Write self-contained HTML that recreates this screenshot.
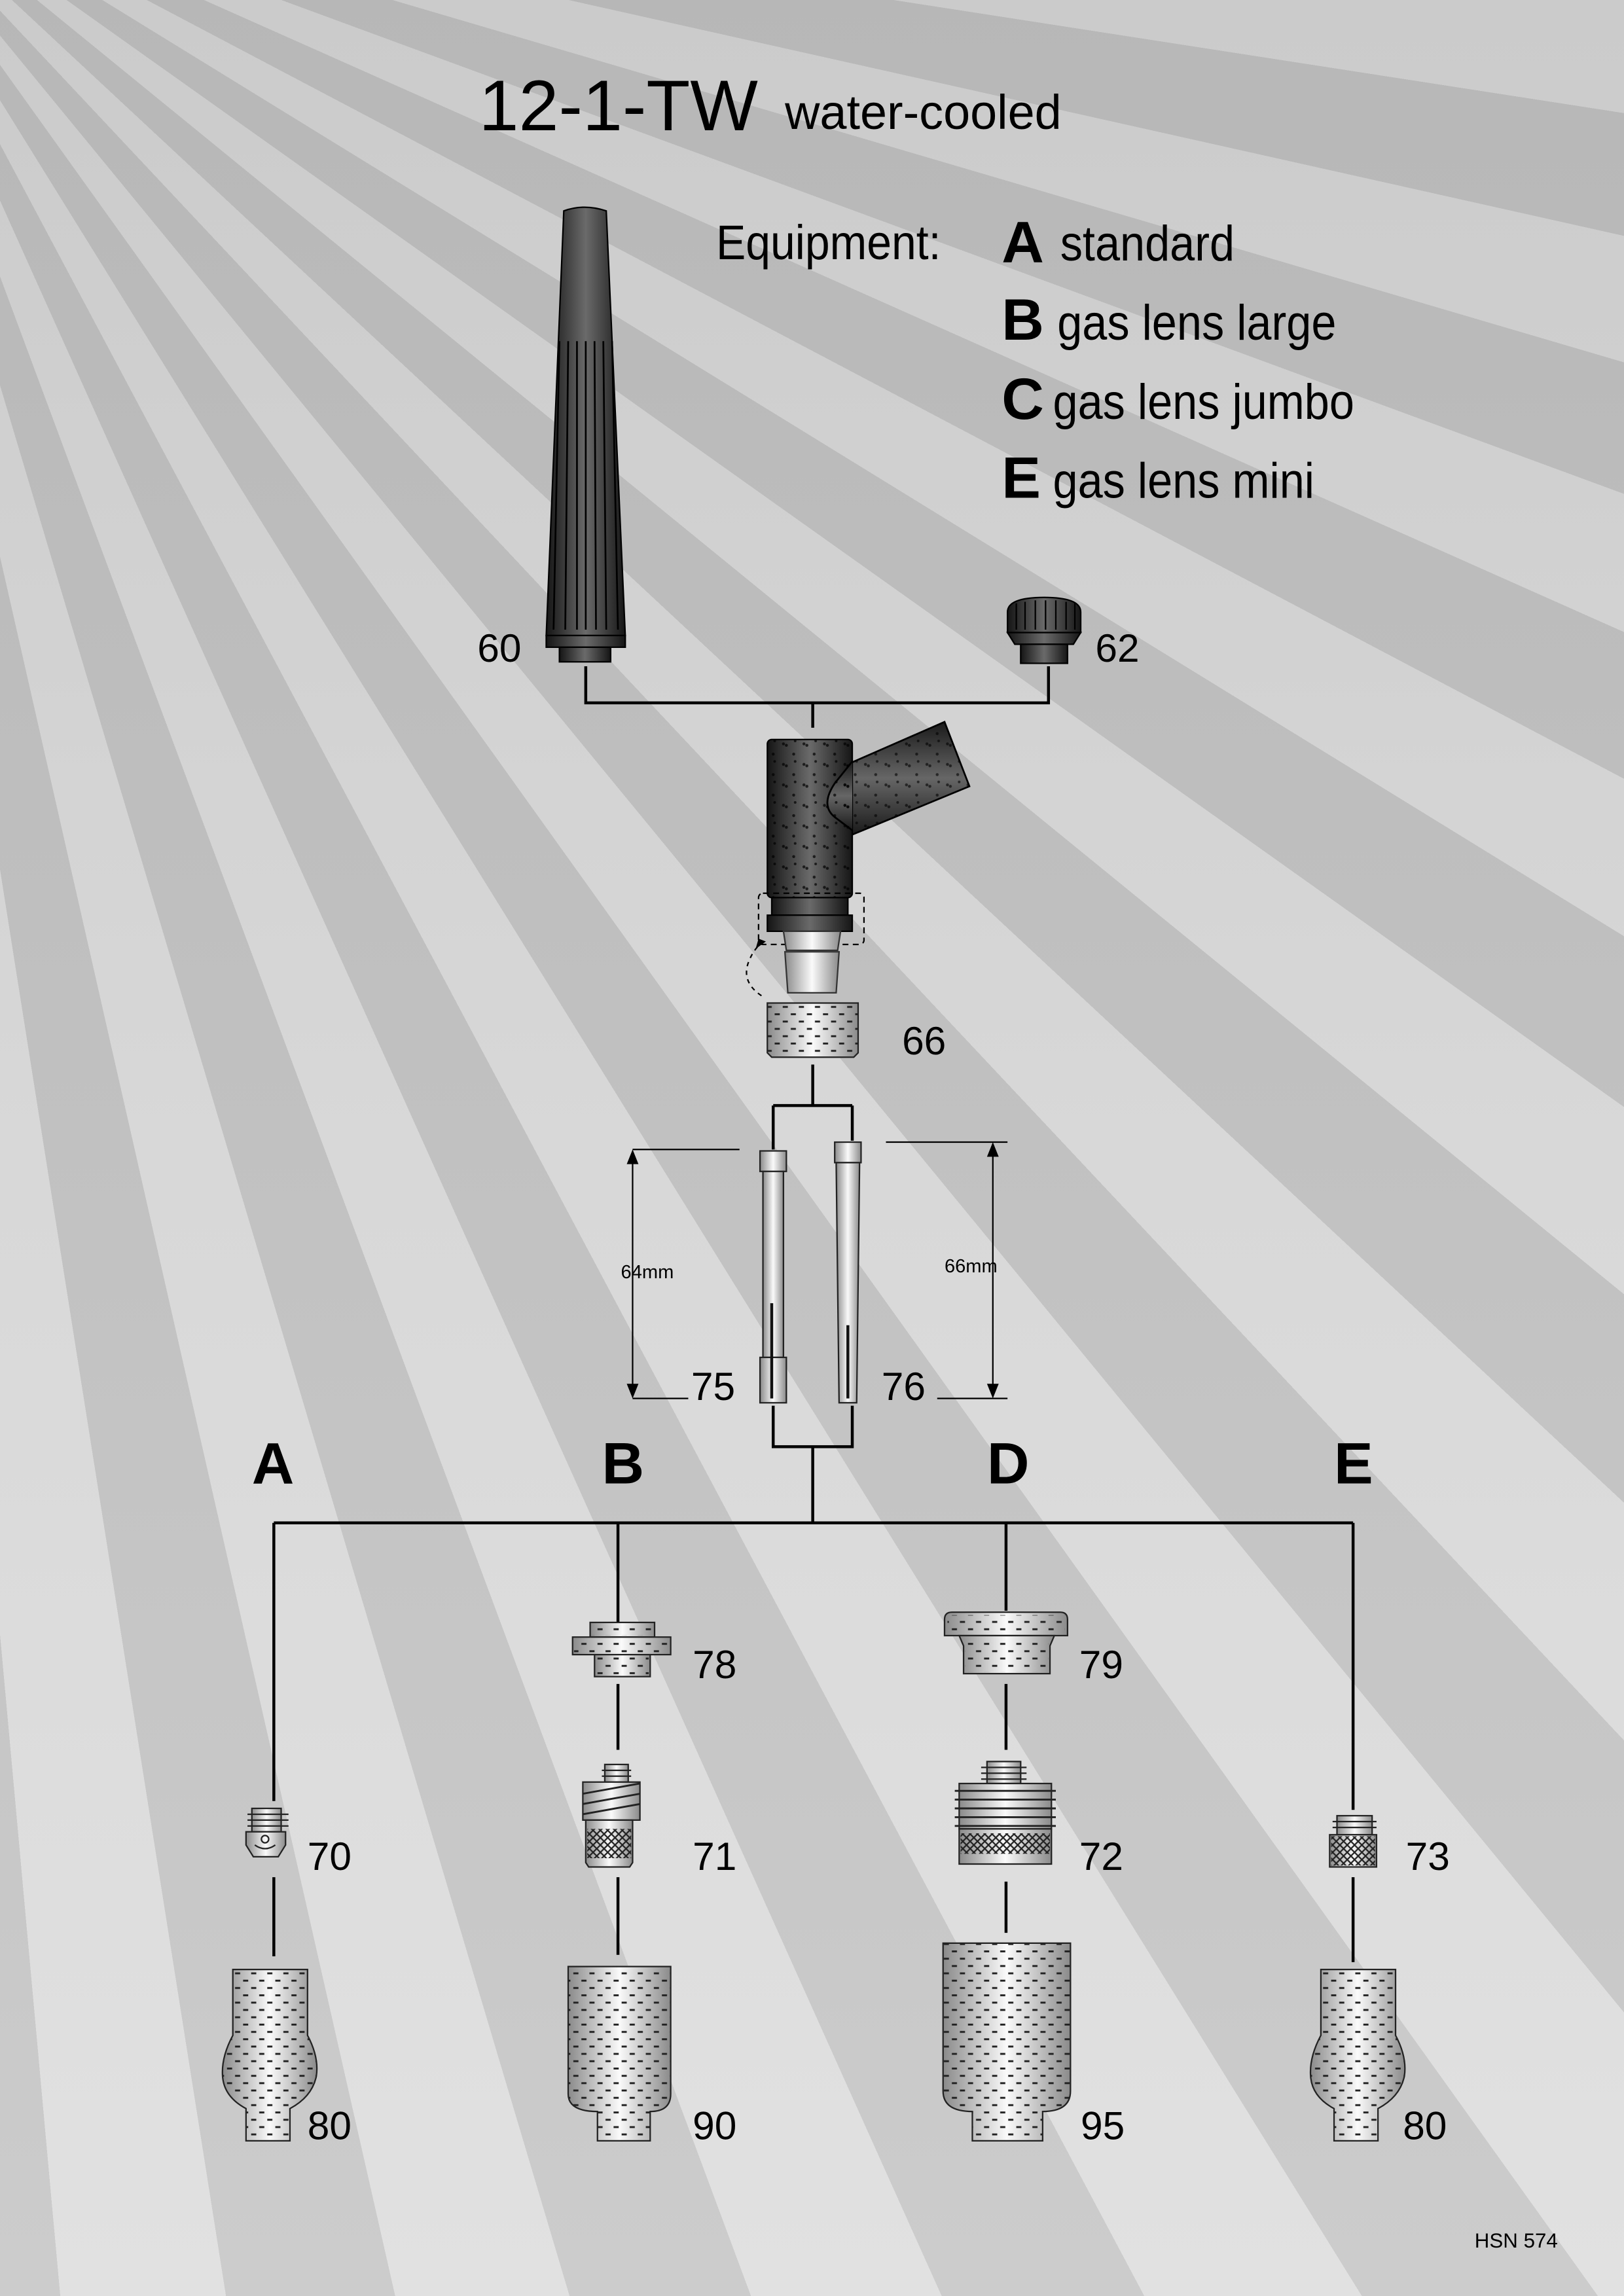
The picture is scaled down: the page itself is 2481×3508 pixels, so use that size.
<!DOCTYPE html>
<html><head><meta charset="utf-8">
<style>
html,body{margin:0;padding:0;}
body{width:2481px;height:3508px;overflow:hidden;position:relative;
background:repeating-conic-gradient(from 0deg at -250px -250px,#c5c5c5 0deg 3.8deg,#dddddd 3.8deg 7.6deg);}
#ov{position:absolute;left:0;top:0;width:2481px;height:3508px;
background:linear-gradient(to bottom,rgba(120,120,120,0.18),rgba(120,120,120,0.05) 50%,rgba(255,255,255,0.12));}
svg{position:absolute;left:0;top:0;}
text{font-family:"Liberation Sans",Arial,sans-serif;fill:#000;}
.b{font-weight:bold;}
.ln{stroke:#000;stroke-width:2;fill:none;}
</style></head><body><div id="ov"></div>
<svg width="2481" height="3508" viewBox="0 0 1109 1568" preserveAspectRatio="none">
<defs>
<linearGradient id="dk" x1="0" x2="1" y1="0" y2="0"><stop offset="0" stop-color="#151515"/><stop offset="0.5" stop-color="#6a6a6a"/><stop offset="1" stop-color="#151515"/></linearGradient>
<linearGradient id="mt" x1="0" x2="1" y1="0" y2="0"><stop offset="0" stop-color="#8a8a8a"/><stop offset="0.5" stop-color="#fafafa"/><stop offset="1" stop-color="#8a8a8a"/></linearGradient>
<linearGradient id="dt" x1="0" x2="0" y1="0" y2="1"><stop offset="0" stop-color="#1a1a1a"/><stop offset="0.5" stop-color="#666"/><stop offset="1" stop-color="#1a1a1a"/></linearGradient>
<pattern id="pf" width="11" height="10" patternUnits="userSpaceOnUse"><rect x="1" y="2" width="3.5" height="1.3" fill="#222"/><rect x="6.5" y="7" width="3.5" height="1.3" fill="#222"/></pattern>
<pattern id="kn" width="5" height="5" patternUnits="userSpaceOnUse"><path d="M0 0L5 5M5 0L0 5" stroke="#222" stroke-width="1"/></pattern>
<pattern id="sp" width="14" height="14" patternUnits="userSpaceOnUse"><circle cx="3" cy="4" r="1" fill="#000"/><circle cx="5" cy="5" r="1" fill="#000"/><circle cx="10" cy="11" r="1" fill="#000"/><circle cx="11" cy="2" r="0.9" fill="#000"/></pattern>
</defs>

<text x="327" y="89" font-size="49">12-1-TW</text>
<text x="536" y="88" font-size="33">water-cooled</text>
<text x="489" y="177" font-size="33" transform="translate(489,0) scale(0.92,1) translate(-489,0)">Equipment:</text>
<text x="684" y="179" font-size="40" class="b">A</text><text x="724" y="178" font-size="34" transform="translate(724,0) scale(0.9,1) translate(-724,0)">standard</text>
<text x="684" y="232" font-size="40" class="b">B</text><text x="722" y="232" font-size="34" transform="translate(722,0) scale(0.9,1) translate(-722,0)">gas lens large</text>
<text x="684" y="286" font-size="40" class="b">C</text><text x="719" y="286" font-size="34" transform="translate(719,0) scale(0.9,1) translate(-719,0)">gas lens jumbo</text>
<text x="684" y="340" font-size="40" class="b">E</text><text x="719" y="340" font-size="34" transform="translate(719,0) scale(0.9,1) translate(-719,0)">gas lens mini</text>

<!-- 60 -->
<path d="M385,144 Q399,139 414,144 L427,434 L373,434 Z" fill="url(#dk)" stroke="#000" stroke-width="1"/>
<path d="M382,233 L378,430 M388,233 L386,430 M394,233 L394,430 M400,233 L400,430 M406,233 L407,430 M412,233 L414,430 M418,233 L422,430" stroke="#000" stroke-width="1.2"/>
<rect x="373" y="434" width="54" height="8" fill="url(#dk)" stroke="#000"/>
<rect x="382" y="442" width="35" height="10" fill="url(#dk)" stroke="#000"/>
<text x="326" y="452" font-size="27">60</text>
<!-- 62 -->
<path d="M688,418 Q688,408 713,408 Q738,408 738,418 L738,432 L688,432 Z" fill="url(#dk)" stroke="#000"/>
<path d="M694,412V430M700,411V430M707,410V430M714,410V430M721,410V430M728,411V430M734,412V430" stroke="#000"/>
<path d="M688,432 L738,432 L733,440 L693,440 Z" fill="url(#dk)" stroke="#000"/>
<rect x="697" y="440" width="32" height="13" fill="url(#dk)" stroke="#000"/>
<text x="748" y="452" font-size="27">62</text>
<path class="ln" d="M400,455V480H716V455M555,480V497"/>

<!-- torch body -->
<path d="M565,528 L645,493 L662,537 L582,570 Q564,555 565,528 Z" fill="url(#dt)" stroke="#000" stroke-width="1.2"/>
<rect x="524" y="505" width="58" height="108" rx="3" fill="url(#dk)" stroke="#000"/>
<path d="M582,520 L570,535 Q560,550 570,558 L582,567" fill="url(#dt)" stroke="#000" stroke-width="1.2"/>
<rect x="524" y="505" width="58" height="108" fill="url(#sp)" opacity="0.7"/>
<path d="M565,528 L645,493 L662,537 L582,570 Z" fill="url(#sp)" opacity="0.6"/>
<rect x="527" y="613" width="52" height="12" fill="url(#dk)" stroke="#000"/>
<rect x="524" y="625" width="58" height="11" fill="url(#dk)" stroke="#000"/>
<rect x="518" y="610" width="72" height="35" rx="3" fill="none" stroke="#000" stroke-dasharray="4,3"/>
<path d="M535,636 L574,636 L572,649 L537,649 Z" fill="url(#mt)" stroke="#333"/>
<path d="M536,650 L573,650 L571,678 L538,678 Z" fill="url(#mt)" stroke="#333"/>
<path d="M520,680 Q505,670 512,655 Q515,648 521,643" fill="none" stroke="#000" stroke-dasharray="3,3"/>
<path d="M518,641 L523,643 L516,648 Z" fill="#000"/>
<!-- 66 -->
<path d="M524,685 H586 V719 L583,722 H527 L524,719 Z" fill="url(#mt)" stroke="#222"/>
<path d="M524,685 H586 V719 L583,722 H527 L524,719 Z" fill="url(#pf)"/>
<text x="616" y="720" font-size="27">66</text>
<path class="ln" d="M555,727V755M528,755H582M528,755V785M582,755V779"/>

<!-- collets -->
<rect x="519" y="786" width="18" height="14" fill="url(#mt)" stroke="#222"/>
<rect x="521" y="800" width="14" height="127" fill="url(#mt)" stroke="#222"/>
<rect x="519" y="927" width="18" height="31" fill="url(#mt)" stroke="#222"/>
<path d="M527,890V955" stroke="#111" stroke-width="2"/>
<rect x="570" y="780" width="18" height="14" fill="url(#mt)" stroke="#222"/>
<path d="M571,794 H587 L585,958 H573 Z" fill="url(#mt)" stroke="#222"/>
<path d="M579,905V955" stroke="#111" stroke-width="2"/>
<path d="M432,785H505M432,955H470M432,789V951M605,780H688M640,955H688M678,784V951" stroke="#000" stroke-width="1"/>
<path d="M428,795L432,785L436,795ZM428,945L432,955L436,945ZM674,790L678,780L682,790ZM674,945L678,955L682,945Z" fill="#000"/>
<text x="424" y="873" font-size="13">64mm</text>
<text x="645" y="869" font-size="13">66mm</text>
<text x="472" y="956" font-size="27">75</text>
<text x="602" y="956" font-size="27">76</text>
<path class="ln" d="M528,960V988H582V960M555,988V1040M187,1040H924M187,1040V1230M422,1040V1110M687,1040V1100M924,1040V1236"/>
<text x="172" y="1013" font-size="40" class="b">A</text>
<text x="411" y="1013" font-size="40" class="b">B</text>
<text x="674" y="1013" font-size="40" class="b">D</text>
<text x="911" y="1013" font-size="40" class="b">E</text>

<!-- 78 -->
<g stroke="#222"><rect x="403" y="1108" width="44" height="10" fill="url(#mt)"/><rect x="391" y="1118" width="67" height="12" fill="url(#mt)"/><rect x="406" y="1130" width="38" height="15" fill="url(#mt)"/></g>
<rect x="403" y="1109" width="44" height="8" fill="url(#pf)"/><rect x="392" y="1119" width="65" height="10" fill="url(#pf)"/><rect x="407" y="1131" width="36" height="13" fill="url(#pf)"/>
<text x="473" y="1146" font-size="27">78</text>
<!-- 79 -->
<g stroke="#222"><path d="M645,1106 Q645,1101 650,1101 H724 Q729,1101 729,1106 V1117 H645 Z" fill="url(#mt)"/><path d="M655,1117 H720 L717,1124 V1143 H658 V1124 Z" fill="url(#mt)"/></g>
<rect x="647" y="1103" width="80" height="13" fill="url(#pf)"/><rect x="659" y="1119" width="57" height="23" fill="url(#pf)"/>
<text x="737" y="1146" font-size="27">79</text>
<path class="ln" d="M422,1150V1195M687,1150V1195"/>

<!-- 70 -->
<rect x="172" y="1235" width="20" height="16" fill="url(#mt)" stroke="#222"/>
<path d="M169,1239H197M169,1243H197M169,1247H197" stroke="#222"/>
<path d="M168,1251H195V1260L190,1268H173L168,1260Z" fill="url(#mt)" stroke="#222"/>
<circle cx="181" cy="1256" r="2.5" fill="none" stroke="#222"/><path d="M174,1260Q181,1265 188,1260" fill="none" stroke="#222"/>
<text x="210" y="1277" font-size="27">70</text>
<!-- 71 -->
<rect x="413" y="1205" width="16" height="12" fill="url(#mt)" stroke="#222"/>
<path d="M411,1209H431M411,1213H431" stroke="#222"/>
<path d="M398,1217H437V1243H398Z" fill="url(#mt)" stroke="#222"/>
<path d="M398,1225L437,1218M398,1232L437,1225M398,1239L437,1232" stroke="#222" stroke-width="1.3"/>
<path d="M400,1243H432V1272L430,1275H402L400,1272Z" fill="url(#mt)" stroke="#222"/>
<rect x="401" y="1249" width="30" height="20" fill="url(#kn)"/>
<text x="473" y="1277" font-size="27">71</text>
<!-- 72 -->
<rect x="674" y="1203" width="23" height="15" fill="url(#mt)" stroke="#222"/>
<path d="M670,1207H701M670,1211H701M670,1215H701" stroke="#222"/>
<rect x="655" y="1218" width="63" height="31" fill="url(#mt)" stroke="#222"/>
<path d="M652,1223H721M652,1229H721M652,1235H721M652,1241H721M652,1247H721" stroke="#222" stroke-width="1.3"/>
<rect x="655" y="1249" width="63" height="24" fill="url(#mt)" stroke="#222"/>
<rect x="656" y="1252" width="61" height="14" fill="url(#kn)"/>
<text x="737" y="1277" font-size="27">72</text>
<!-- 73 -->
<rect x="913" y="1240" width="24" height="13" fill="url(#mt)" stroke="#222"/>
<path d="M910,1244H940M910,1248H940" stroke="#222"/>
<rect x="908" y="1253" width="32" height="22" fill="url(#mt)" stroke="#222"/>
<rect x="909" y="1254" width="30" height="20" fill="url(#kn)"/>
<text x="960" y="1277" font-size="27">73</text>
<path class="ln" d="M187,1282V1336M422,1282V1335M687,1285V1320M924,1282V1340"/>

<!-- cups -->
<path d="M159,1345H210V1390Q218,1405 216,1418Q213,1432 198,1440V1462H168V1440Q153,1432 152,1418Q151,1405 159,1390Z" fill="url(#mt)" stroke="#222"/>
<path d="M159,1345H210V1390Q218,1405 216,1418Q213,1432 198,1440V1462H168V1440Q153,1432 152,1418Q151,1405 159,1390Z" fill="url(#pf)"/>
<g transform="translate(743,0)">
<path d="M159,1345H210V1390Q218,1405 216,1418Q213,1432 198,1440V1462H168V1440Q153,1432 152,1418Q151,1405 159,1390Z" fill="url(#mt)" stroke="#222"/>
<path d="M159,1345H210V1390Q218,1405 216,1418Q213,1432 198,1440V1462H168V1440Q153,1432 152,1418Q151,1405 159,1390Z" fill="url(#pf)"/>
</g>
<path d="M388,1343H458V1430Q458,1442 444,1442V1462H408V1442Q388,1442 388,1430Z" fill="url(#mt)" stroke="#222"/>
<path d="M388,1343H458V1430Q458,1442 444,1442V1462H408V1442Q388,1442 388,1430Z" fill="url(#pf)"/>
<path d="M644,1327H731V1428Q731,1442 712,1442V1462H664V1442Q644,1442 644,1428Z" fill="url(#mt)" stroke="#222"/>
<path d="M644,1327H731V1428Q731,1442 712,1442V1462H664V1442Q644,1442 644,1428Z" fill="url(#pf)"/>
<text x="210" y="1461" font-size="27">80</text>
<text x="473" y="1461" font-size="27">90</text>
<text x="738" y="1461" font-size="27">95</text>
<text x="958" y="1461" font-size="27">80</text>
<text x="1007" y="1535" font-size="14">HSN 574</text>
</svg>
</body></html>
